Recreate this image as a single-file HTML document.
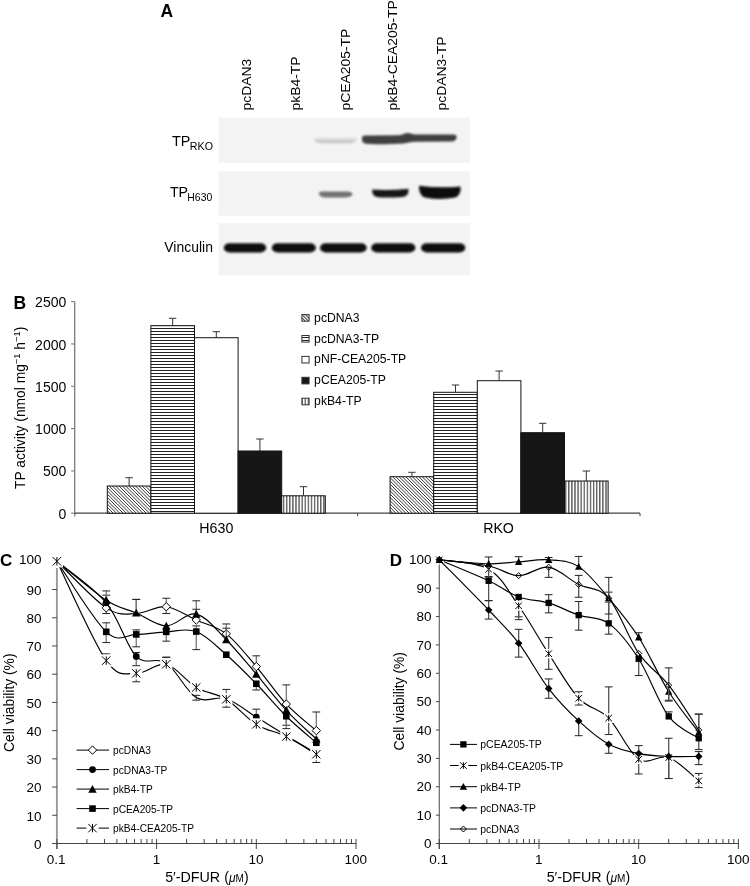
<!DOCTYPE html>
<html><head><meta charset="utf-8"><style>
html,body{margin:0;padding:0;background:#fff;font-family:"Liberation Sans",sans-serif;overflow:hidden;}
svg{display:block;filter:grayscale(1);}
</style></head><body>
<svg width="750" height="886" viewBox="0 0 750 886">
<defs>
<linearGradient id="gfaint" x1="0" y1="0" x2="0" y2="1"><stop offset="0" stop-color="#e4e4e4"/><stop offset="1" stop-color="#bcbcbc"/></linearGradient>
<filter id="bl" x="-10%" y="-40%" width="120%" height="180%"><feGaussianBlur stdDeviation="0.85"/></filter>
<pattern id="pd" width="2.35" height="2.35" patternUnits="userSpaceOnUse" patternTransform="rotate(-45)"><rect width="2.35" height="2.35" fill="#fff"/><line x1="0.6" y1="0" x2="0.6" y2="2.35" stroke="#000" stroke-width="0.75"/></pattern>
<pattern id="ph" width="4" height="3" patternUnits="userSpaceOnUse"><rect width="4" height="3" fill="#fff"/><line x1="0" y1="1.5" x2="4" y2="1.5" stroke="#222" stroke-width="1"/></pattern>
<pattern id="pv" width="3.1" height="4" patternUnits="userSpaceOnUse"><rect width="3.1" height="4" fill="#fff"/><line x1="1.5" y1="0" x2="1.5" y2="4" stroke="#222" stroke-width="1"/></pattern>
</defs>
<rect width="750" height="886" fill="#fff"/>
<text transform="translate(160.56,16.80)" font-family="'Liberation Sans', sans-serif" font-size="17.5" font-weight="bold" fill="#000">A</text>
<text transform="translate(250.80,110.50) rotate(-90) scale(1.0000,0.8800)" font-family="'Liberation Sans', sans-serif" font-size="13.9" fill="#000">pcDAN3</text>
<text transform="translate(299.50,110.50) rotate(-90) scale(1.0000,0.8800)" font-family="'Liberation Sans', sans-serif" font-size="13.9" fill="#000">pkB4-TP</text>
<text transform="translate(350.20,110.50) rotate(-90) scale(1.0000,0.8800)" font-family="'Liberation Sans', sans-serif" font-size="13.9" fill="#000">pCEA205-TP</text>
<text transform="translate(397.30,110.50) rotate(-90) scale(1.0000,0.8800)" font-family="'Liberation Sans', sans-serif" font-size="13.9" fill="#000">pkB4-CEA205-TP</text>
<text transform="translate(445.80,110.50) rotate(-90) scale(1.0000,0.8800)" font-family="'Liberation Sans', sans-serif" font-size="13.9" fill="#000">pcDAN3-TP</text>
<rect x="218.5" y="117.5" width="251.3" height="45.30000000000001" fill="#f3f3f3"/>
<rect x="218.5" y="171.2" width="251.3" height="44.60000000000002" fill="#f3f3f3"/>
<rect x="218.5" y="223.2" width="251.3" height="52.19999999999999" fill="#f3f3f3"/>
<text transform="translate(172.01,145.90)" font-family="'Liberation Sans', sans-serif" font-size="14.4" fill="#000">TP</text>
<text transform="translate(189.84,149.50)" font-family="'Liberation Sans', sans-serif" font-size="10.7" fill="#000">RKO</text>
<text transform="translate(169.92,196.80)" font-family="'Liberation Sans', sans-serif" font-size="14.2" fill="#000">TP</text>
<text transform="translate(187.37,200.50)" font-family="'Liberation Sans', sans-serif" font-size="10.4" fill="#000">H630</text>
<text transform="translate(164.33,252.20)" font-family="'Liberation Sans', sans-serif" font-size="13.95" fill="#000">Vinculin</text>
<path d="M314,138.6 C318,137.9 325,137.7 335,137.8 L348,137.8 C353,137.8 356,137.9 357.2,138.2 C357.2,141 354,143.2 348,143.3 L323,143.3 C317,143.2 314,141.5 314,138.6 Z" fill="url(#gfaint)" filter="url(#bl)"/>
<path d="M362,137.5 C362,135.8 364,135.6 368,135.6 L398,135.3 C402,135.1 404,133 407.5,132.9 C411,132.9 412,134.4 416,134.5 L452,134.4 C456,134.4 457,135.6 456.6,137.6 C456.2,140.5 454.5,141.4 451,141.5 L416,141.7 C411,141.8 409,142.6 405,143.2 C398,144 378,144.4 368,144 C363.5,143.8 362,141.5 362,139.5 Z" fill="#3f3f3f" filter="url(#bl)"/>
<path d="M318.9,193 C319,191.5 322,191.3 326,191.4 L346,191.6 C351,191.7 352.4,192.5 352.4,194 C352.4,196 350,197.2 345,197.4 L327,197.6 C321,197.6 318.8,195.5 318.9,193 Z" fill="#727272" filter="url(#bl)"/>
<path d="M372.3,189.6 Q390,190.6 408.3,188.7 C409,192.5 408,196 403,196.9 C392,197.8 381,197.8 377,197 C372.5,196 372,192.5 372.3,189.6 Z" fill="#161616" filter="url(#bl)"/>
<path d="M419,185.7 Q440,188.6 460.3,186.4 C461.2,190.5 460,195.5 455,197.6 C446,199.4 432,199.4 425,197.6 C420,195.8 419,190.5 419,185.7 Z" fill="#080808" filter="url(#bl)"/>
<rect x="223.8" y="243.3" width="42.39999999999998" height="9.099999999999994" rx="5.9" ry="4.5" fill="#0a0a0a" opacity="1" filter="url(#bl)"/>
<rect x="271.8" y="243.3" width="44.0" height="9.099999999999994" rx="5.9" ry="4.5" fill="#0a0a0a" opacity="1" filter="url(#bl)"/>
<rect x="320" y="243.3" width="46.69999999999999" height="9.099999999999994" rx="5.9" ry="4.5" fill="#0a0a0a" opacity="1" filter="url(#bl)"/>
<rect x="371.2" y="243.3" width="44.19999999999999" height="9.099999999999994" rx="5.9" ry="4.5" fill="#0a0a0a" opacity="1" filter="url(#bl)"/>
<rect x="421" y="243.3" width="44.30000000000001" height="9.099999999999994" rx="5.9" ry="4.5" fill="#0a0a0a" opacity="1" filter="url(#bl)"/>
<text transform="translate(13.46,308.90)" font-family="'Liberation Sans', sans-serif" font-size="17.5" font-weight="bold" fill="#000">B</text>
<line x1="74.7" y1="301.65" x2="74.7" y2="516.6" stroke="#7a7a7a" stroke-width="1.3"/>
<line x1="71.10000000000001" y1="513.20" x2="74.7" y2="513.20" stroke="#7a7a7a" stroke-width="1.1"/>
<text transform="translate(58.49,518.80)" font-family="'Liberation Sans', sans-serif" font-size="14" fill="#000">0</text>
<line x1="71.10000000000001" y1="470.89" x2="74.7" y2="470.89" stroke="#7a7a7a" stroke-width="1.1"/>
<text transform="translate(42.95,476.49)" font-family="'Liberation Sans', sans-serif" font-size="14" fill="#000">500</text>
<line x1="71.10000000000001" y1="428.58" x2="74.7" y2="428.58" stroke="#7a7a7a" stroke-width="1.1"/>
<text transform="translate(35.11,434.18)" font-family="'Liberation Sans', sans-serif" font-size="14" fill="#000">1000</text>
<line x1="71.10000000000001" y1="386.27" x2="74.7" y2="386.27" stroke="#7a7a7a" stroke-width="1.1"/>
<text transform="translate(35.11,391.87)" font-family="'Liberation Sans', sans-serif" font-size="14" fill="#000">1500</text>
<line x1="71.10000000000001" y1="343.96" x2="74.7" y2="343.96" stroke="#7a7a7a" stroke-width="1.1"/>
<text transform="translate(35.11,349.56)" font-family="'Liberation Sans', sans-serif" font-size="14" fill="#000">2000</text>
<line x1="71.10000000000001" y1="301.65" x2="74.7" y2="301.65" stroke="#7a7a7a" stroke-width="1.1"/>
<text transform="translate(35.11,307.25)" font-family="'Liberation Sans', sans-serif" font-size="14" fill="#000">2500</text>
<line x1="74.7" y1="513.2" x2="640" y2="513.2" stroke="#404040" stroke-width="1.2"/>
<line x1="357.6" y1="513.2" x2="357.6" y2="516.2" stroke="#404040" stroke-width="1"/>
<line x1="640" y1="513.2" x2="640" y2="516.2" stroke="#404040" stroke-width="1"/>
<text transform="translate(24.8,488.9) rotate(-90) scale(0.987,1)" font-family="'Liberation Sans', sans-serif" font-size="14">TP activity (nmol mg<tspan font-size="9.5" dy="-5.2">−1</tspan><tspan dy="5.2"> h</tspan><tspan font-size="9.5" dy="-5.2">−1</tspan><tspan dy="5.2">)</tspan></text>
<text transform="translate(199.36,533.30)" font-family="'Liberation Sans', sans-serif" font-size="14.2" fill="#000">H630</text>
<text transform="translate(483.16,533.30)" font-family="'Liberation Sans', sans-serif" font-size="14.2" fill="#000">RKO</text>
<line x1="129.1" y1="477.7" x2="129.1" y2="486" stroke="#333" stroke-width="1"/>
<line x1="125.4" y1="477.7" x2="132.8" y2="477.7" stroke="#333" stroke-width="1"/>
<clipPath id="cl107"><rect x="107.3" y="486" width="43.6" height="27.2"/></clipPath>
<rect x="107.3" y="486" width="43.6" height="27.2" fill="#fff"/>
<path d="M76.10,486.00 L103.30,513.20 M79.40,486.00 L106.60,513.20 M82.70,486.00 L109.90,513.20 M86.00,486.00 L113.20,513.20 M89.30,486.00 L116.50,513.20 M92.60,486.00 L119.80,513.20 M95.90,486.00 L123.10,513.20 M99.20,486.00 L126.40,513.20 M102.50,486.00 L129.70,513.20 M105.80,486.00 L133.00,513.20 M109.10,486.00 L136.30,513.20 M112.40,486.00 L139.60,513.20 M115.70,486.00 L142.90,513.20 M119.00,486.00 L146.20,513.20 M122.30,486.00 L149.50,513.20 M125.60,486.00 L152.80,513.20 M128.90,486.00 L156.10,513.20 M132.20,486.00 L159.40,513.20 M135.50,486.00 L162.70,513.20 M138.80,486.00 L166.00,513.20 M142.10,486.00 L169.30,513.20 M145.40,486.00 L172.60,513.20 M148.70,486.00 L175.90,513.20 M152.00,486.00 L179.20,513.20 " stroke="#000" stroke-width="0.8" clip-path="url(#cl107)"/>
<rect x="107.3" y="486" width="43.6" height="27.2" fill="none" stroke="#111" stroke-width="1"/>
<line x1="172.7" y1="318.3" x2="172.7" y2="325.7" stroke="#333" stroke-width="1"/>
<line x1="169.0" y1="318.3" x2="176.4" y2="318.3" stroke="#333" stroke-width="1"/>
<rect x="150.9" y="325.7" width="43.6" height="187.5" fill="url(#ph)" stroke="#111" stroke-width="1"/>
<line x1="216.3" y1="331.7" x2="216.3" y2="337.7" stroke="#333" stroke-width="1"/>
<line x1="212.6" y1="331.7" x2="220.0" y2="331.7" stroke="#333" stroke-width="1"/>
<rect x="194.5" y="337.7" width="43.6" height="175.5" fill="#ffffff" stroke="#111" stroke-width="1"/>
<line x1="259.9" y1="439" x2="259.9" y2="451" stroke="#333" stroke-width="1"/>
<line x1="256.2" y1="439" x2="263.6" y2="439" stroke="#333" stroke-width="1"/>
<rect x="238.1" y="451" width="43.6" height="62.2" fill="#161616" stroke="#111" stroke-width="1"/>
<line x1="303.5" y1="486.7" x2="303.5" y2="495.8" stroke="#333" stroke-width="1"/>
<line x1="299.8" y1="486.7" x2="307.2" y2="486.7" stroke="#333" stroke-width="1"/>
<rect x="281.7" y="495.8" width="43.6" height="17.4" fill="url(#pv)" stroke="#111" stroke-width="1"/>
<line x1="411.9" y1="472.3" x2="411.9" y2="476.7" stroke="#333" stroke-width="1"/>
<line x1="408.2" y1="472.3" x2="415.6" y2="472.3" stroke="#333" stroke-width="1"/>
<clipPath id="cl390"><rect x="390.1" y="476.7" width="43.6" height="36.5"/></clipPath>
<rect x="390.1" y="476.7" width="43.6" height="36.5" fill="#fff"/>
<path d="M349.60,476.70 L386.10,513.20 M352.90,476.70 L389.40,513.20 M356.20,476.70 L392.70,513.20 M359.50,476.70 L396.00,513.20 M362.80,476.70 L399.30,513.20 M366.10,476.70 L402.60,513.20 M369.40,476.70 L405.90,513.20 M372.70,476.70 L409.20,513.20 M376.00,476.70 L412.50,513.20 M379.30,476.70 L415.80,513.20 M382.60,476.70 L419.10,513.20 M385.90,476.70 L422.40,513.20 M389.20,476.70 L425.70,513.20 M392.50,476.70 L429.00,513.20 M395.80,476.70 L432.30,513.20 M399.10,476.70 L435.60,513.20 M402.40,476.70 L438.90,513.20 M405.70,476.70 L442.20,513.20 M409.00,476.70 L445.50,513.20 M412.30,476.70 L448.80,513.20 M415.60,476.70 L452.10,513.20 M418.90,476.70 L455.40,513.20 M422.20,476.70 L458.70,513.20 M425.50,476.70 L462.00,513.20 M428.80,476.70 L465.30,513.20 M432.10,476.70 L468.60,513.20 M435.40,476.70 L471.90,513.20 " stroke="#000" stroke-width="0.8" clip-path="url(#cl390)"/>
<rect x="390.1" y="476.7" width="43.6" height="36.5" fill="none" stroke="#111" stroke-width="1"/>
<line x1="455.5" y1="385" x2="455.5" y2="392.3" stroke="#333" stroke-width="1"/>
<line x1="451.8" y1="385" x2="459.2" y2="385" stroke="#333" stroke-width="1"/>
<rect x="433.7" y="392.3" width="43.6" height="120.9" fill="url(#ph)" stroke="#111" stroke-width="1"/>
<line x1="499.1" y1="371" x2="499.1" y2="380.7" stroke="#333" stroke-width="1"/>
<line x1="495.4" y1="371" x2="502.8" y2="371" stroke="#333" stroke-width="1"/>
<rect x="477.3" y="380.7" width="43.6" height="132.5" fill="#ffffff" stroke="#111" stroke-width="1"/>
<line x1="542.7" y1="423.3" x2="542.7" y2="432.7" stroke="#333" stroke-width="1"/>
<line x1="539.0" y1="423.3" x2="546.4" y2="423.3" stroke="#333" stroke-width="1"/>
<rect x="520.9" y="432.7" width="43.6" height="80.5" fill="#161616" stroke="#111" stroke-width="1"/>
<line x1="586.3" y1="471" x2="586.3" y2="481" stroke="#333" stroke-width="1"/>
<line x1="582.6" y1="471" x2="590.0" y2="471" stroke="#333" stroke-width="1"/>
<rect x="564.5" y="481" width="43.6" height="32.2" fill="url(#pv)" stroke="#111" stroke-width="1"/>
<rect x="301.9" y="314.6" width="7.2" height="6.6" fill="url(#pd)" stroke="#333" stroke-width="1"/>
<text transform="translate(314.11,321.60)" font-family="'Liberation Sans', sans-serif" font-size="12.2" fill="#000">pcDNA3</text>
<rect x="301.9" y="335.5" width="7.2" height="6.6" fill="url(#ph)" stroke="#333" stroke-width="1"/>
<text transform="translate(314.11,342.50)" font-family="'Liberation Sans', sans-serif" font-size="12.2" fill="#000">pcDNA3-TP</text>
<rect x="301.9" y="356.4" width="7.2" height="6.6" fill="#ffffff" stroke="#333" stroke-width="1"/>
<text transform="translate(314.11,363.40)" font-family="'Liberation Sans', sans-serif" font-size="12.2" fill="#000">pNF-CEA205-TP</text>
<rect x="301.9" y="377.3" width="7.2" height="6.6" fill="#161616" stroke="#333" stroke-width="1"/>
<text transform="translate(314.11,384.30)" font-family="'Liberation Sans', sans-serif" font-size="12.2" fill="#000">pCEA205-TP</text>
<rect x="301.9" y="398.2" width="7.2" height="6.6" fill="url(#pv)" stroke="#333" stroke-width="1"/>
<text transform="translate(314.11,405.20)" font-family="'Liberation Sans', sans-serif" font-size="12.2" fill="#000">pkB4-TP</text>
<text transform="translate(0.12,566.20)" font-family="'Liberation Sans', sans-serif" font-size="17" font-weight="bold" fill="#000">C</text>
<line x1="56.9" y1="568" x2="56.9" y2="849.0" stroke="#999" stroke-width="1.9"/>
<line x1="52.199999999999996" y1="843.50" x2="56.9" y2="843.50" stroke="#444" stroke-width="1"/>
<text transform="translate(33.95,848.80)" font-family="'Liberation Sans', sans-serif" font-size="13.5" fill="#000">0</text>
<line x1="52.199999999999996" y1="815.28" x2="56.9" y2="815.28" stroke="#444" stroke-width="1"/>
<text transform="translate(26.45,820.58)" font-family="'Liberation Sans', sans-serif" font-size="13.5" fill="#000">10</text>
<line x1="52.199999999999996" y1="787.06" x2="56.9" y2="787.06" stroke="#444" stroke-width="1"/>
<text transform="translate(26.45,792.36)" font-family="'Liberation Sans', sans-serif" font-size="13.5" fill="#000">20</text>
<line x1="52.199999999999996" y1="758.84" x2="56.9" y2="758.84" stroke="#444" stroke-width="1"/>
<text transform="translate(26.45,764.14)" font-family="'Liberation Sans', sans-serif" font-size="13.5" fill="#000">30</text>
<line x1="52.199999999999996" y1="730.62" x2="56.9" y2="730.62" stroke="#444" stroke-width="1"/>
<text transform="translate(26.45,735.92)" font-family="'Liberation Sans', sans-serif" font-size="13.5" fill="#000">40</text>
<line x1="52.199999999999996" y1="702.40" x2="56.9" y2="702.40" stroke="#444" stroke-width="1"/>
<text transform="translate(26.45,707.70)" font-family="'Liberation Sans', sans-serif" font-size="13.5" fill="#000">50</text>
<line x1="52.199999999999996" y1="674.18" x2="56.9" y2="674.18" stroke="#444" stroke-width="1"/>
<text transform="translate(26.45,679.48)" font-family="'Liberation Sans', sans-serif" font-size="13.5" fill="#000">60</text>
<line x1="52.199999999999996" y1="645.96" x2="56.9" y2="645.96" stroke="#444" stroke-width="1"/>
<text transform="translate(26.45,651.26)" font-family="'Liberation Sans', sans-serif" font-size="13.5" fill="#000">70</text>
<line x1="52.199999999999996" y1="617.74" x2="56.9" y2="617.74" stroke="#444" stroke-width="1"/>
<text transform="translate(26.45,623.04)" font-family="'Liberation Sans', sans-serif" font-size="13.5" fill="#000">80</text>
<line x1="52.199999999999996" y1="589.52" x2="56.9" y2="589.52" stroke="#444" stroke-width="1"/>
<text transform="translate(26.45,594.82)" font-family="'Liberation Sans', sans-serif" font-size="13.5" fill="#000">90</text>
<text transform="translate(18.96,564.10)" font-family="'Liberation Sans', sans-serif" font-size="13.5" fill="#000">100</text>
<line x1="56.9" y1="843.5" x2="356.0" y2="843.5" stroke="#444" stroke-width="1.1"/>
<line x1="86.91" y1="839.0" x2="86.91" y2="843.5" stroke="#444" stroke-width="1"/>
<line x1="104.47" y1="839.0" x2="104.47" y2="843.5" stroke="#444" stroke-width="1"/>
<line x1="116.93" y1="839.0" x2="116.93" y2="843.5" stroke="#444" stroke-width="1"/>
<line x1="126.59" y1="839.0" x2="126.59" y2="843.5" stroke="#444" stroke-width="1"/>
<line x1="134.48" y1="839.0" x2="134.48" y2="843.5" stroke="#444" stroke-width="1"/>
<line x1="141.16" y1="839.0" x2="141.16" y2="843.5" stroke="#444" stroke-width="1"/>
<line x1="146.94" y1="839.0" x2="146.94" y2="843.5" stroke="#444" stroke-width="1"/>
<line x1="152.04" y1="839.0" x2="152.04" y2="843.5" stroke="#444" stroke-width="1"/>
<line x1="186.61" y1="839.0" x2="186.61" y2="843.5" stroke="#444" stroke-width="1"/>
<line x1="204.17" y1="839.0" x2="204.17" y2="843.5" stroke="#444" stroke-width="1"/>
<line x1="216.63" y1="839.0" x2="216.63" y2="843.5" stroke="#444" stroke-width="1"/>
<line x1="226.29" y1="839.0" x2="226.29" y2="843.5" stroke="#444" stroke-width="1"/>
<line x1="234.18" y1="839.0" x2="234.18" y2="843.5" stroke="#444" stroke-width="1"/>
<line x1="240.86" y1="839.0" x2="240.86" y2="843.5" stroke="#444" stroke-width="1"/>
<line x1="246.64" y1="839.0" x2="246.64" y2="843.5" stroke="#444" stroke-width="1"/>
<line x1="251.74" y1="839.0" x2="251.74" y2="843.5" stroke="#444" stroke-width="1"/>
<line x1="286.31" y1="839.0" x2="286.31" y2="843.5" stroke="#444" stroke-width="1"/>
<line x1="303.87" y1="839.0" x2="303.87" y2="843.5" stroke="#444" stroke-width="1"/>
<line x1="316.33" y1="839.0" x2="316.33" y2="843.5" stroke="#444" stroke-width="1"/>
<line x1="325.99" y1="839.0" x2="325.99" y2="843.5" stroke="#444" stroke-width="1"/>
<line x1="333.88" y1="839.0" x2="333.88" y2="843.5" stroke="#444" stroke-width="1"/>
<line x1="340.56" y1="839.0" x2="340.56" y2="843.5" stroke="#444" stroke-width="1"/>
<line x1="346.34" y1="839.0" x2="346.34" y2="843.5" stroke="#444" stroke-width="1"/>
<line x1="351.44" y1="839.0" x2="351.44" y2="843.5" stroke="#444" stroke-width="1"/>
<line x1="56.90" y1="839.0" x2="56.90" y2="849.0" stroke="#444" stroke-width="1"/>
<text transform="translate(46.79,864.30)" font-family="'Liberation Sans', sans-serif" font-size="13.5" fill="#000">0.1</text>
<line x1="156.60" y1="839.0" x2="156.60" y2="849.0" stroke="#444" stroke-width="1"/>
<text transform="translate(152.69,864.30)" font-family="'Liberation Sans', sans-serif" font-size="13.5" fill="#000">1</text>
<line x1="256.30" y1="839.0" x2="256.30" y2="849.0" stroke="#444" stroke-width="1"/>
<text transform="translate(248.57,864.30)" font-family="'Liberation Sans', sans-serif" font-size="13.5" fill="#000">10</text>
<line x1="356.00" y1="839.0" x2="356.00" y2="849.0" stroke="#444" stroke-width="1"/>
<text transform="translate(344.53,864.30)" font-family="'Liberation Sans', sans-serif" font-size="13.5" fill="#000">100</text>
<path d="M106.24,607.86 L106.24,613.51" stroke="#777" stroke-width="1.3" fill="none"/>
<path d="M102.34,613.51 L110.14,613.51" stroke="#222" stroke-width="1" fill="none"/>
<path d="M136.25,599.40 L136.25,613.51" stroke="#777" stroke-width="1.3" fill="none"/>
<path d="M132.35,599.40 L140.15,599.40 " stroke="#222" stroke-width="1" fill="none"/>
<path d="M166.26,598.27 L166.26,613.51" stroke="#777" stroke-width="1.3" fill="none"/>
<path d="M162.36,598.27 L170.16,598.27 M162.36,613.51 L170.16,613.51" stroke="#222" stroke-width="1" fill="none"/>
<path d="M196.27,600.81 L196.27,620.00" stroke="#777" stroke-width="1.3" fill="none"/>
<path d="M192.37,600.81 L200.17,600.81 " stroke="#222" stroke-width="1" fill="none"/>
<path d="M226.29,623.95 L226.29,633.83" stroke="#777" stroke-width="1.3" fill="none"/>
<path d="M222.39,623.95 L230.19,623.95 " stroke="#222" stroke-width="1" fill="none"/>
<path d="M256.30,655.84 L256.30,666.56" stroke="#777" stroke-width="1.3" fill="none"/>
<path d="M252.40,655.84 L260.20,655.84 " stroke="#222" stroke-width="1" fill="none"/>
<path d="M286.31,684.90 L286.31,704.09" stroke="#777" stroke-width="1.3" fill="none"/>
<path d="M282.41,684.90 L290.21,684.90 " stroke="#222" stroke-width="1" fill="none"/>
<path d="M316.33,711.99 L316.33,730.62" stroke="#777" stroke-width="1.3" fill="none"/>
<path d="M312.43,711.99 L320.23,711.99 " stroke="#222" stroke-width="1" fill="none"/>
<path d="M56.90,561.30 C65.12,569.06 93.01,599.16 106.24,607.86 C119.46,616.56 126.25,613.70 136.25,613.51 C146.25,613.32 156.26,605.65 166.26,606.73 C176.27,607.82 186.27,615.48 196.27,620.00 C206.28,624.51 216.28,626.06 226.29,633.83 C236.29,641.59 246.30,654.85 256.30,666.56 C266.30,678.27 276.31,693.42 286.31,704.09 C296.32,714.77 311.32,726.20 316.33,730.62" stroke="#000" stroke-width="1.15" fill="none"/>
<path d="M106.24,603.66 L110.44,607.86 L106.24,612.06 L102.04,607.86 Z" fill="#fff" stroke="#000" stroke-width="1"/>
<path d="M166.26,602.53 L170.46,606.73 L166.26,610.93 L162.06,606.73 Z" fill="#fff" stroke="#000" stroke-width="1"/>
<path d="M196.27,615.80 L200.47,620.00 L196.27,624.20 L192.07,620.00 Z" fill="#fff" stroke="#000" stroke-width="1"/>
<path d="M226.29,629.63 L230.49,633.83 L226.29,638.03 L222.09,633.83 Z" fill="#fff" stroke="#000" stroke-width="1"/>
<path d="M256.30,662.36 L260.50,666.56 L256.30,670.76 L252.10,666.56 Z" fill="#fff" stroke="#000" stroke-width="1"/>
<path d="M286.31,699.89 L290.51,704.09 L286.31,708.29 L282.11,704.09 Z" fill="#fff" stroke="#000" stroke-width="1"/>
<path d="M316.33,726.42 L320.53,730.62 L316.33,734.82 L312.13,730.62 Z" fill="#fff" stroke="#000" stroke-width="1"/>
<path d="M106.24,595.16 L106.24,602.78" stroke="#777" stroke-width="1.3" fill="none"/>
<path d="M102.34,595.16 L110.14,595.16 " stroke="#222" stroke-width="1" fill="none"/>
<path d="M136.25,652.45 L136.25,665.71" stroke="#777" stroke-width="1.3" fill="none"/>
<path d="M132.35,652.45 L140.15,652.45 M132.35,665.71 L140.15,665.71" stroke="#222" stroke-width="1" fill="none"/>
<path d="M166.26,657.25 L166.26,662.89" stroke="#777" stroke-width="1.3" fill="none"/>
<path d="M162.36,657.25 L170.16,657.25 " stroke="#222" stroke-width="1" fill="none"/>
<path d="M196.27,695.34 L196.27,700.14" stroke="#777" stroke-width="1.3" fill="none"/>
<path d="M192.37,695.34 L200.17,695.34 M192.37,700.14 L200.17,700.14" stroke="#222" stroke-width="1" fill="none"/>
<path d="M256.30,709.17 L256.30,717.07" stroke="#777" stroke-width="1.3" fill="none"/>
<path d="M252.40,709.17 L260.20,709.17 " stroke="#222" stroke-width="1" fill="none"/>
<path d="M56.90,561.30 C65.12,568.21 93.01,586.93 106.24,602.78 C119.46,618.63 126.25,646.38 136.25,656.40 C146.25,666.42 156.26,656.03 166.26,662.89 C176.27,669.76 186.27,691.63 196.27,697.60 C206.28,703.58 216.28,695.49 226.29,698.73 C236.29,701.98 246.30,710.91 256.30,717.07 C266.30,723.24 276.31,729.68 286.31,735.70 C296.32,741.72 311.32,750.28 316.33,753.20" stroke="#000" stroke-width="1.15" fill="none"/>
<circle cx="106.24" cy="602.78" r="3.40" fill="#000"/>
<circle cx="136.25" cy="656.40" r="3.40" fill="#000"/>
<circle cx="166.26" cy="662.89" r="3.40" fill="#000"/>
<circle cx="226.29" cy="698.73" r="3.40" fill="#000"/>
<circle cx="256.30" cy="717.07" r="3.40" fill="#000"/>
<path d="M106.24,590.93 L106.24,600.24" stroke="#777" stroke-width="1.3" fill="none"/>
<path d="M102.34,590.93 L110.14,590.93 " stroke="#222" stroke-width="1" fill="none"/>
<path d="M136.25,599.40 L136.25,612.94" stroke="#777" stroke-width="1.3" fill="none"/>
<path d="M132.35,599.40 L140.15,599.40 " stroke="#222" stroke-width="1" fill="none"/>
<path d="M166.26,625.92 L166.26,641.16" stroke="#777" stroke-width="1.3" fill="none"/>
<path d="M162.36,641.16 L170.16,641.16" stroke="#222" stroke-width="1" fill="none"/>
<path d="M196.27,609.27 L196.27,614.07" stroke="#777" stroke-width="1.3" fill="none"/>
<path d="M192.37,609.27 L200.17,609.27 " stroke="#222" stroke-width="1" fill="none"/>
<path d="M226.29,628.18 L226.29,639.75" stroke="#777" stroke-width="1.3" fill="none"/>
<path d="M222.39,628.18 L230.19,628.18 " stroke="#222" stroke-width="1" fill="none"/>
<path d="M286.31,710.30 L286.31,725.26" stroke="#777" stroke-width="1.3" fill="none"/>
<path d="M282.41,725.26 L290.21,725.26" stroke="#222" stroke-width="1" fill="none"/>
<path d="M56.90,561.30 C65.12,567.79 93.01,591.64 106.24,600.24 C119.46,608.85 126.25,608.66 136.25,612.94 C146.25,617.22 156.26,625.74 166.26,625.92 C176.27,626.11 186.27,611.77 196.27,614.07 C206.28,616.38 216.28,629.73 226.29,639.75 C236.29,649.77 246.30,662.42 256.30,674.18 C266.30,685.94 276.31,699.48 286.31,710.30 C296.32,721.12 311.32,734.29 316.33,739.09" stroke="#000" stroke-width="1.15" fill="none"/>
<path d="M106.24,596.04 L110.44,603.81 L102.04,603.81 Z" fill="#000"/>
<path d="M136.25,608.74 L140.45,616.51 L132.05,616.51 Z" fill="#000"/>
<path d="M166.26,621.72 L170.46,629.49 L162.06,629.49 Z" fill="#000"/>
<path d="M196.27,609.87 L200.47,617.64 L192.07,617.64 Z" fill="#000"/>
<path d="M226.29,635.55 L230.49,643.32 L222.09,643.32 Z" fill="#000"/>
<path d="M256.30,669.98 L260.50,677.75 L252.10,677.75 Z" fill="#000"/>
<path d="M286.31,706.10 L290.51,713.87 L282.11,713.87 Z" fill="#000"/>
<path d="M316.33,734.89 L320.53,742.66 L312.13,742.66 Z" fill="#000"/>
<path d="M106.24,622.82 L106.24,642.57" stroke="#777" stroke-width="1.3" fill="none"/>
<path d="M102.34,622.82 L110.14,622.82 M102.34,642.57 L110.14,642.57" stroke="#222" stroke-width="1" fill="none"/>
<path d="M136.25,629.87 L136.25,646.81" stroke="#777" stroke-width="1.3" fill="none"/>
<path d="M132.35,629.87 L140.15,629.87 M132.35,646.81 L140.15,646.81" stroke="#222" stroke-width="1" fill="none"/>
<path d="M196.27,625.92 L196.27,649.63" stroke="#777" stroke-width="1.3" fill="none"/>
<path d="M192.37,625.92 L200.17,625.92 M192.37,649.63 L200.17,649.63" stroke="#222" stroke-width="1" fill="none"/>
<path d="M256.30,683.77 L256.30,689.98" stroke="#777" stroke-width="1.3" fill="none"/>
<path d="M252.40,689.98 L260.20,689.98" stroke="#222" stroke-width="1" fill="none"/>
<path d="M286.31,716.23 L286.31,728.64" stroke="#777" stroke-width="1.3" fill="none"/>
<path d="M282.41,728.64 L290.21,728.64" stroke="#222" stroke-width="1" fill="none"/>
<path d="M56.90,561.30 C65.12,573.06 93.01,619.67 106.24,631.85 C119.46,644.03 126.25,634.39 136.25,634.39 C146.25,634.39 156.26,632.32 166.26,631.85 C176.27,631.38 186.27,627.76 196.27,631.57 C206.28,635.38 216.28,646.01 226.29,654.71 C236.29,663.41 246.30,673.52 256.30,683.77 C266.30,694.03 276.31,706.40 286.31,716.23 C296.32,726.06 311.32,738.33 316.33,742.75" stroke="#000" stroke-width="1.15" fill="none"/>
<rect x="102.94" y="628.55" width="6.60" height="6.60" fill="#000"/>
<rect x="132.95" y="631.09" width="6.60" height="6.60" fill="#000"/>
<rect x="162.96" y="628.55" width="6.60" height="6.60" fill="#000"/>
<rect x="192.97" y="628.27" width="6.60" height="6.60" fill="#000"/>
<rect x="222.99" y="651.41" width="6.60" height="6.60" fill="#000"/>
<rect x="253.00" y="680.47" width="6.60" height="6.60" fill="#000"/>
<rect x="283.01" y="712.93" width="6.60" height="6.60" fill="#000"/>
<rect x="313.03" y="739.45" width="6.60" height="6.60" fill="#000"/>
<path d="M106.24,653.86 L106.24,660.63" stroke="#777" stroke-width="1.3" fill="none"/>
<path d="M102.34,653.86 L110.14,653.86 " stroke="#222" stroke-width="1" fill="none"/>
<path d="M136.25,673.33 L136.25,681.80" stroke="#777" stroke-width="1.3" fill="none"/>
<path d="M132.35,681.80 L140.15,681.80" stroke="#222" stroke-width="1" fill="none"/>
<path d="M166.26,657.25 L166.26,664.30" stroke="#777" stroke-width="1.3" fill="none"/>
<path d="M162.36,657.25 L170.16,657.25 " stroke="#222" stroke-width="1" fill="none"/>
<path d="M226.29,689.42 L226.29,707.20" stroke="#777" stroke-width="1.3" fill="none"/>
<path d="M222.39,689.42 L230.19,689.42 M222.39,707.20 L230.19,707.20" stroke="#222" stroke-width="1" fill="none"/>
<path d="M316.33,754.32 L316.33,762.51" stroke="#777" stroke-width="1.3" fill="none"/>
<path d="M312.43,762.51 L320.23,762.51" stroke="#222" stroke-width="1" fill="none"/>
<path d="M56.90,561.30 C65.12,577.86 93.01,641.96 106.24,660.63 C119.46,679.31 126.25,672.72 136.25,673.33 C146.25,673.94 156.26,661.95 166.26,664.30 C176.27,666.65 186.27,681.61 196.27,687.44 C206.28,693.28 216.28,693.13 226.29,699.30 C236.29,705.46 246.30,718.20 256.30,724.41 C266.30,730.62 276.31,731.56 286.31,736.55 C296.32,741.53 311.32,751.36 316.33,754.32" stroke="#000" stroke-width="1.15" fill="none"/>
<rect x="50.81" y="555.21" width="12.18" height="12.18" fill="#fff"/><path d="M52.70,557.10 L61.10,565.50 M61.10,557.10 L52.70,565.50 M56.90,557.10 L56.90,565.50" stroke="#000" stroke-width="1" fill="none"/>
<rect x="100.15" y="654.54" width="12.18" height="12.18" fill="#fff"/><path d="M102.04,656.43 L110.44,664.83 M110.44,656.43 L102.04,664.83 M106.24,656.43 L106.24,664.83" stroke="#000" stroke-width="1" fill="none"/>
<rect x="130.16" y="667.24" width="12.18" height="12.18" fill="#fff"/><path d="M132.05,669.13 L140.45,677.53 M140.45,669.13 L132.05,677.53 M136.25,669.13 L136.25,677.53" stroke="#000" stroke-width="1" fill="none"/>
<rect x="160.17" y="658.21" width="12.18" height="12.18" fill="#fff"/><path d="M162.06,660.10 L170.46,668.50 M170.46,660.10 L162.06,668.50 M166.26,660.10 L166.26,668.50" stroke="#000" stroke-width="1" fill="none"/>
<rect x="190.18" y="681.35" width="12.18" height="12.18" fill="#fff"/><path d="M192.07,683.24 L200.47,691.64 M200.47,683.24 L192.07,691.64 M196.27,683.24 L196.27,691.64" stroke="#000" stroke-width="1" fill="none"/>
<rect x="220.20" y="693.21" width="12.18" height="12.18" fill="#fff"/><path d="M222.09,695.10 L230.49,703.50 M230.49,695.10 L222.09,703.50 M226.29,695.10 L226.29,703.50" stroke="#000" stroke-width="1" fill="none"/>
<rect x="250.21" y="718.32" width="12.18" height="12.18" fill="#fff"/><path d="M252.10,720.21 L260.50,728.61 M260.50,720.21 L252.10,728.61 M256.30,720.21 L256.30,728.61" stroke="#000" stroke-width="1" fill="none"/>
<rect x="280.22" y="730.46" width="12.18" height="12.18" fill="#fff"/><path d="M282.11,732.35 L290.51,740.75 M290.51,732.35 L282.11,740.75 M286.31,732.35 L286.31,740.75" stroke="#000" stroke-width="1" fill="none"/>
<rect x="310.24" y="748.23" width="12.18" height="12.18" fill="#fff"/><path d="M312.13,750.12 L320.53,758.52 M320.53,750.12 L312.13,758.52 M316.33,750.12 L316.33,758.52" stroke="#000" stroke-width="1" fill="none"/>
<line x1="76.6" y1="750.1" x2="109" y2="750.1" stroke="#000" stroke-width="1"/>
<path d="M92.50,745.90 L96.70,750.10 L92.50,754.30 L88.30,750.10 Z" fill="#fff" stroke="#000" stroke-width="1"/>
<text transform="translate(113.04,754.10)" font-family="'Liberation Sans', sans-serif" font-size="10.2" fill="#000">pcDNA3</text>
<line x1="76.6" y1="769.6" x2="109" y2="769.6" stroke="#000" stroke-width="1"/>
<circle cx="92.50" cy="769.60" r="3.40" fill="#000"/>
<text transform="translate(113.04,773.60)" font-family="'Liberation Sans', sans-serif" font-size="10.2" fill="#000">pcDNA3-TP</text>
<line x1="76.6" y1="789.1" x2="109" y2="789.1" stroke="#000" stroke-width="1"/>
<path d="M92.50,784.90 L96.70,792.67 L88.30,792.67 Z" fill="#000"/>
<text transform="translate(113.04,793.10)" font-family="'Liberation Sans', sans-serif" font-size="10.2" fill="#000">pkB4-TP</text>
<line x1="76.6" y1="808.6" x2="109" y2="808.6" stroke="#000" stroke-width="1"/>
<rect x="89.20" y="805.30" width="6.60" height="6.60" fill="#000"/>
<text transform="translate(113.04,812.60)" font-family="'Liberation Sans', sans-serif" font-size="10.2" fill="#000">pCEA205-TP</text>
<line x1="76.6" y1="828.1" x2="109" y2="828.1" stroke="#000" stroke-width="1"/>
<rect x="86.41" y="822.01" width="12.18" height="12.18" fill="#fff"/><path d="M88.30,823.90 L96.70,832.30 M96.70,823.90 L88.30,832.30 M92.50,823.90 L92.50,832.30" stroke="#000" stroke-width="1" fill="none"/>
<text transform="translate(113.04,832.10)" font-family="'Liberation Sans', sans-serif" font-size="10.2" fill="#000">pkB4-CEA205-TP</text>
<text transform="translate(389.79,566.30)" font-family="'Liberation Sans', sans-serif" font-size="17" font-weight="bold" fill="#000">D</text>
<line x1="439.3" y1="564" x2="439.3" y2="849.0" stroke="#666" stroke-width="1.2"/>
<line x1="436.0" y1="843.50" x2="439.3" y2="843.50" stroke="#444" stroke-width="1"/>
<text transform="translate(424.05,848.10)" font-family="'Liberation Sans', sans-serif" font-size="13.5" fill="#000">0</text>
<line x1="436.0" y1="815.13" x2="439.3" y2="815.13" stroke="#444" stroke-width="1"/>
<text transform="translate(416.56,819.73)" font-family="'Liberation Sans', sans-serif" font-size="13.5" fill="#000">10</text>
<line x1="436.0" y1="786.76" x2="439.3" y2="786.76" stroke="#444" stroke-width="1"/>
<text transform="translate(416.56,791.36)" font-family="'Liberation Sans', sans-serif" font-size="13.5" fill="#000">20</text>
<line x1="436.0" y1="758.39" x2="439.3" y2="758.39" stroke="#444" stroke-width="1"/>
<text transform="translate(416.56,762.99)" font-family="'Liberation Sans', sans-serif" font-size="13.5" fill="#000">30</text>
<line x1="436.0" y1="730.02" x2="439.3" y2="730.02" stroke="#444" stroke-width="1"/>
<text transform="translate(416.56,734.62)" font-family="'Liberation Sans', sans-serif" font-size="13.5" fill="#000">40</text>
<line x1="436.0" y1="701.65" x2="439.3" y2="701.65" stroke="#444" stroke-width="1"/>
<text transform="translate(416.56,706.25)" font-family="'Liberation Sans', sans-serif" font-size="13.5" fill="#000">50</text>
<line x1="436.0" y1="673.28" x2="439.3" y2="673.28" stroke="#444" stroke-width="1"/>
<text transform="translate(416.56,677.88)" font-family="'Liberation Sans', sans-serif" font-size="13.5" fill="#000">60</text>
<line x1="436.0" y1="644.91" x2="439.3" y2="644.91" stroke="#444" stroke-width="1"/>
<text transform="translate(416.56,649.51)" font-family="'Liberation Sans', sans-serif" font-size="13.5" fill="#000">70</text>
<line x1="436.0" y1="616.54" x2="439.3" y2="616.54" stroke="#444" stroke-width="1"/>
<text transform="translate(416.56,621.14)" font-family="'Liberation Sans', sans-serif" font-size="13.5" fill="#000">80</text>
<line x1="436.0" y1="588.17" x2="439.3" y2="588.17" stroke="#444" stroke-width="1"/>
<text transform="translate(416.56,592.77)" font-family="'Liberation Sans', sans-serif" font-size="13.5" fill="#000">90</text>
<text transform="translate(409.06,563.70)" font-family="'Liberation Sans', sans-serif" font-size="13.5" fill="#000">100</text>
<line x1="439.3" y1="843.5" x2="738.4000000000001" y2="843.5" stroke="#444" stroke-width="1.1"/>
<line x1="469.31" y1="839.0" x2="469.31" y2="843.5" stroke="#444" stroke-width="1"/>
<line x1="486.87" y1="839.0" x2="486.87" y2="843.5" stroke="#444" stroke-width="1"/>
<line x1="499.33" y1="839.0" x2="499.33" y2="843.5" stroke="#444" stroke-width="1"/>
<line x1="508.99" y1="839.0" x2="508.99" y2="843.5" stroke="#444" stroke-width="1"/>
<line x1="516.88" y1="839.0" x2="516.88" y2="843.5" stroke="#444" stroke-width="1"/>
<line x1="523.56" y1="839.0" x2="523.56" y2="843.5" stroke="#444" stroke-width="1"/>
<line x1="529.34" y1="839.0" x2="529.34" y2="843.5" stroke="#444" stroke-width="1"/>
<line x1="534.44" y1="839.0" x2="534.44" y2="843.5" stroke="#444" stroke-width="1"/>
<line x1="569.01" y1="839.0" x2="569.01" y2="843.5" stroke="#444" stroke-width="1"/>
<line x1="586.57" y1="839.0" x2="586.57" y2="843.5" stroke="#444" stroke-width="1"/>
<line x1="599.03" y1="839.0" x2="599.03" y2="843.5" stroke="#444" stroke-width="1"/>
<line x1="608.69" y1="839.0" x2="608.69" y2="843.5" stroke="#444" stroke-width="1"/>
<line x1="616.58" y1="839.0" x2="616.58" y2="843.5" stroke="#444" stroke-width="1"/>
<line x1="623.26" y1="839.0" x2="623.26" y2="843.5" stroke="#444" stroke-width="1"/>
<line x1="629.04" y1="839.0" x2="629.04" y2="843.5" stroke="#444" stroke-width="1"/>
<line x1="634.14" y1="839.0" x2="634.14" y2="843.5" stroke="#444" stroke-width="1"/>
<line x1="668.71" y1="839.0" x2="668.71" y2="843.5" stroke="#444" stroke-width="1"/>
<line x1="686.27" y1="839.0" x2="686.27" y2="843.5" stroke="#444" stroke-width="1"/>
<line x1="698.73" y1="839.0" x2="698.73" y2="843.5" stroke="#444" stroke-width="1"/>
<line x1="708.39" y1="839.0" x2="708.39" y2="843.5" stroke="#444" stroke-width="1"/>
<line x1="716.28" y1="839.0" x2="716.28" y2="843.5" stroke="#444" stroke-width="1"/>
<line x1="722.96" y1="839.0" x2="722.96" y2="843.5" stroke="#444" stroke-width="1"/>
<line x1="728.74" y1="839.0" x2="728.74" y2="843.5" stroke="#444" stroke-width="1"/>
<line x1="733.84" y1="839.0" x2="733.84" y2="843.5" stroke="#444" stroke-width="1"/>
<line x1="439.30" y1="839.0" x2="439.30" y2="849.0" stroke="#444" stroke-width="1"/>
<text transform="translate(429.19,864.30)" font-family="'Liberation Sans', sans-serif" font-size="13.5" fill="#000">0.1</text>
<line x1="539.00" y1="839.0" x2="539.00" y2="849.0" stroke="#444" stroke-width="1"/>
<text transform="translate(535.08,864.30)" font-family="'Liberation Sans', sans-serif" font-size="13.5" fill="#000">1</text>
<line x1="638.70" y1="839.0" x2="638.70" y2="849.0" stroke="#444" stroke-width="1"/>
<text transform="translate(630.97,864.30)" font-family="'Liberation Sans', sans-serif" font-size="13.5" fill="#000">10</text>
<line x1="738.40" y1="839.0" x2="738.40" y2="849.0" stroke="#444" stroke-width="1"/>
<text transform="translate(726.93,864.30)" font-family="'Liberation Sans', sans-serif" font-size="13.5" fill="#000">100</text>
<path d="M488.64,576.54 L488.64,600.65" stroke="#555" stroke-width="1.3" fill="none"/>
<path d="M484.74,576.54 L492.54,576.54 M484.74,600.65 L492.54,600.65" stroke="#222" stroke-width="1" fill="none"/>
<path d="M518.65,596.96 L518.65,616.82" stroke="#555" stroke-width="1.3" fill="none"/>
<path d="M514.75,616.82 L522.55,616.82" stroke="#222" stroke-width="1" fill="none"/>
<path d="M548.66,594.70 L548.66,612.85" stroke="#555" stroke-width="1.3" fill="none"/>
<path d="M544.76,594.70 L552.56,594.70 M544.76,612.85 L552.56,612.85" stroke="#222" stroke-width="1" fill="none"/>
<path d="M578.67,601.50 L578.67,630.16" stroke="#555" stroke-width="1.3" fill="none"/>
<path d="M574.77,601.50 L582.57,601.50 M574.77,630.16 L582.57,630.16" stroke="#222" stroke-width="1" fill="none"/>
<path d="M608.69,602.07 L608.69,634.13" stroke="#555" stroke-width="1.3" fill="none"/>
<path d="M604.79,602.07 L612.59,602.07 M604.79,634.13 L612.59,634.13" stroke="#222" stroke-width="1" fill="none"/>
<path d="M638.70,658.81 L638.70,675.55" stroke="#555" stroke-width="1.3" fill="none"/>
<path d="M634.80,675.55 L642.60,675.55" stroke="#222" stroke-width="1" fill="none"/>
<path d="M668.71,711.86 L668.71,716.40" stroke="#555" stroke-width="1.3" fill="none"/>
<path d="M664.81,711.86 L672.61,711.86 " stroke="#222" stroke-width="1" fill="none"/>
<path d="M698.73,738.25 L698.73,749.60" stroke="#555" stroke-width="1.3" fill="none"/>
<path d="M694.83,749.60 L702.63,749.60" stroke="#222" stroke-width="1" fill="none"/>
<path d="M439.30,559.80 C447.52,563.30 475.41,574.60 488.64,580.79 C501.86,586.99 508.65,593.28 518.65,596.96 C528.65,600.65 538.66,599.90 548.66,602.92 C558.67,605.95 568.67,611.72 578.67,615.12 C588.68,618.53 598.68,616.07 608.69,623.35 C618.69,630.63 628.70,643.30 638.70,658.81 C648.70,674.32 658.71,703.16 668.71,716.40 C678.72,729.64 693.72,734.61 698.73,738.25" stroke="#000" stroke-width="1.15" fill="none"/>
<rect x="436.15" y="556.65" width="6.30" height="6.30" fill="#000"/>
<rect x="485.49" y="577.64" width="6.30" height="6.30" fill="#000"/>
<rect x="515.50" y="593.81" width="6.30" height="6.30" fill="#000"/>
<rect x="545.51" y="599.77" width="6.30" height="6.30" fill="#000"/>
<rect x="575.52" y="611.97" width="6.30" height="6.30" fill="#000"/>
<rect x="605.54" y="620.20" width="6.30" height="6.30" fill="#000"/>
<rect x="635.55" y="655.66" width="6.30" height="6.30" fill="#000"/>
<rect x="665.56" y="713.25" width="6.30" height="6.30" fill="#000"/>
<rect x="695.58" y="735.10" width="6.30" height="6.30" fill="#000"/>
<path d="M518.65,605.76 L518.65,619.66" stroke="#555" stroke-width="1.3" fill="none"/>
<path d="M514.75,619.66 L522.55,619.66" stroke="#222" stroke-width="1" fill="none"/>
<path d="M548.66,637.53 L548.66,669.31" stroke="#555" stroke-width="1.3" fill="none"/>
<path d="M544.76,637.53 L552.56,637.53 M544.76,669.31 L552.56,669.31" stroke="#222" stroke-width="1" fill="none"/>
<path d="M578.67,691.72 L578.67,705.05" stroke="#555" stroke-width="1.3" fill="none"/>
<path d="M574.77,691.72 L582.57,691.72 M574.77,705.05 L582.57,705.05" stroke="#222" stroke-width="1" fill="none"/>
<path d="M608.69,686.90 L608.69,734.56" stroke="#555" stroke-width="1.3" fill="none"/>
<path d="M604.79,686.90 L612.59,686.90 M604.79,734.56 L612.59,734.56" stroke="#222" stroke-width="1" fill="none"/>
<path d="M638.70,759.24 L638.70,773.99" stroke="#555" stroke-width="1.3" fill="none"/>
<path d="M634.80,773.99 L642.60,773.99" stroke="#222" stroke-width="1" fill="none"/>
<path d="M668.71,757.54 L668.71,778.53" stroke="#555" stroke-width="1.3" fill="none"/>
<path d="M664.81,778.53 L672.61,778.53" stroke="#222" stroke-width="1" fill="none"/>
<path d="M698.73,773.43 L698.73,787.61" stroke="#555" stroke-width="1.3" fill="none"/>
<path d="M694.83,773.43 L702.63,773.43 M694.83,787.61 L702.63,787.61" stroke="#222" stroke-width="1" fill="none"/>
<path d="M439.30,559.80 C447.52,561.36 475.41,561.50 488.64,569.16 C501.86,576.82 508.65,591.67 518.65,605.76 C528.65,619.85 538.66,638.29 548.66,653.70 C558.67,669.12 568.67,687.51 578.67,698.25 C588.68,708.98 598.68,707.94 608.69,718.10 C618.69,728.27 628.70,752.67 638.70,759.24 C648.70,765.81 658.71,753.95 668.71,757.54 C678.72,761.13 693.72,776.93 698.73,780.80" stroke="#000" stroke-width="1.15" fill="none"/>
<rect x="434.51" y="555.01" width="9.57" height="9.57" fill="#fff"/><path d="M436.00,556.50 L442.60,563.10 M442.60,556.50 L436.00,563.10 M439.30,556.50 L439.30,563.10" stroke="#000" stroke-width="1" fill="none"/>
<rect x="483.85" y="564.38" width="9.57" height="9.57" fill="#fff"/><path d="M485.34,565.86 L491.94,572.46 M491.94,565.86 L485.34,572.46 M488.64,565.86 L488.64,572.46" stroke="#000" stroke-width="1" fill="none"/>
<rect x="513.86" y="600.97" width="9.57" height="9.57" fill="#fff"/><path d="M515.35,602.46 L521.95,609.06 M521.95,602.46 L515.35,609.06 M518.65,602.46 L518.65,609.06" stroke="#000" stroke-width="1" fill="none"/>
<rect x="543.88" y="648.92" width="9.57" height="9.57" fill="#fff"/><path d="M545.36,650.40 L551.96,657.00 M551.96,650.40 L545.36,657.00 M548.66,650.40 L548.66,657.00" stroke="#000" stroke-width="1" fill="none"/>
<rect x="573.89" y="693.46" width="9.57" height="9.57" fill="#fff"/><path d="M575.37,694.95 L581.97,701.55 M581.97,694.95 L575.37,701.55 M578.67,694.95 L578.67,701.55" stroke="#000" stroke-width="1" fill="none"/>
<rect x="603.90" y="713.32" width="9.57" height="9.57" fill="#fff"/><path d="M605.39,714.80 L611.99,721.40 M611.99,714.80 L605.39,721.40 M608.69,714.80 L608.69,721.40" stroke="#000" stroke-width="1" fill="none"/>
<rect x="633.92" y="754.46" width="9.57" height="9.57" fill="#fff"/><path d="M635.40,755.94 L642.00,762.54 M642.00,755.94 L635.40,762.54 M638.70,755.94 L638.70,762.54" stroke="#000" stroke-width="1" fill="none"/>
<rect x="663.93" y="752.75" width="9.57" height="9.57" fill="#fff"/><path d="M665.41,754.24 L672.01,760.84 M672.01,754.24 L665.41,760.84 M668.71,754.24 L668.71,760.84" stroke="#000" stroke-width="1" fill="none"/>
<rect x="693.94" y="776.02" width="9.57" height="9.57" fill="#fff"/><path d="M695.43,777.50 L702.03,784.10 M702.03,777.50 L695.43,784.10 M698.73,777.50 L698.73,784.10" stroke="#000" stroke-width="1" fill="none"/>
<path d="M488.64,556.96 L488.64,563.77" stroke="#555" stroke-width="1.3" fill="none"/>
<path d="M484.74,556.96 L492.54,556.96 " stroke="#222" stroke-width="1" fill="none"/>
<path d="M518.65,556.68 L518.65,561.79" stroke="#555" stroke-width="1.3" fill="none"/>
<path d="M514.75,556.68 L522.55,556.68 " stroke="#222" stroke-width="1" fill="none"/>
<path d="M548.66,557.53 L548.66,559.80" stroke="#555" stroke-width="1.3" fill="none"/>
<path d="M544.76,557.53 L552.56,557.53 " stroke="#222" stroke-width="1" fill="none"/>
<path d="M578.67,556.40 L578.67,566.61" stroke="#555" stroke-width="1.3" fill="none"/>
<path d="M574.77,556.40 L582.57,556.40 " stroke="#222" stroke-width="1" fill="none"/>
<path d="M608.69,592.14 L608.69,598.10" stroke="#555" stroke-width="1.3" fill="none"/>
<path d="M604.79,592.14 L612.59,592.14 " stroke="#222" stroke-width="1" fill="none"/>
<path d="M638.70,632.71 L638.70,637.25" stroke="#555" stroke-width="1.3" fill="none"/>
<path d="M634.80,632.71 L642.60,632.71 " stroke="#222" stroke-width="1" fill="none"/>
<path d="M668.71,691.72 L668.71,700.23" stroke="#555" stroke-width="1.3" fill="none"/>
<path d="M664.81,700.23 L672.61,700.23" stroke="#222" stroke-width="1" fill="none"/>
<path d="M698.73,714.13 L698.73,732.29" stroke="#555" stroke-width="1.3" fill="none"/>
<path d="M694.83,714.13 L702.63,714.13 " stroke="#222" stroke-width="1" fill="none"/>
<path d="M439.30,559.80 C447.52,560.46 475.41,563.44 488.64,563.77 C501.86,564.10 508.65,562.45 518.65,561.79 C528.65,561.12 538.66,559.00 548.66,559.80 C558.67,560.60 568.67,560.23 578.67,566.61 C588.68,572.99 598.68,586.33 608.69,598.10 C618.69,609.87 628.70,621.65 638.70,637.25 C648.70,652.85 658.71,675.88 668.71,691.72 C678.72,707.56 693.72,725.53 698.73,732.29" stroke="#000" stroke-width="1.15" fill="none"/>
<path d="M439.30,556.10 L443.00,562.94 L435.60,562.94 Z" fill="#000"/>
<path d="M488.64,560.07 L492.34,566.92 L484.94,566.92 Z" fill="#000"/>
<path d="M518.65,558.09 L522.35,564.93 L514.95,564.93 Z" fill="#000"/>
<path d="M548.66,556.10 L552.36,562.94 L544.96,562.94 Z" fill="#000"/>
<path d="M578.67,562.91 L582.37,569.75 L574.97,569.75 Z" fill="#000"/>
<path d="M608.69,594.40 L612.39,601.24 L604.99,601.24 Z" fill="#000"/>
<path d="M638.70,633.55 L642.40,640.40 L635.00,640.40 Z" fill="#000"/>
<path d="M668.71,688.02 L672.41,694.87 L665.01,694.87 Z" fill="#000"/>
<path d="M698.73,728.59 L702.43,735.43 L695.03,735.43 Z" fill="#000"/>
<path d="M488.64,600.65 L488.64,619.09" stroke="#555" stroke-width="1.3" fill="none"/>
<path d="M484.74,600.65 L492.54,600.65 M484.74,619.09 L492.54,619.09" stroke="#222" stroke-width="1" fill="none"/>
<path d="M518.65,629.31 L518.65,657.11" stroke="#555" stroke-width="1.3" fill="none"/>
<path d="M514.75,629.31 L522.55,629.31 M514.75,657.11 L522.55,657.11" stroke="#222" stroke-width="1" fill="none"/>
<path d="M548.66,678.95 L548.66,698.25" stroke="#555" stroke-width="1.3" fill="none"/>
<path d="M544.76,678.95 L552.56,678.95 M544.76,698.25 L552.56,698.25" stroke="#222" stroke-width="1" fill="none"/>
<path d="M578.67,720.94 L578.67,735.69" stroke="#555" stroke-width="1.3" fill="none"/>
<path d="M574.77,735.69 L582.57,735.69" stroke="#222" stroke-width="1" fill="none"/>
<path d="M608.69,744.21 L608.69,753.28" stroke="#555" stroke-width="1.3" fill="none"/>
<path d="M604.79,753.28 L612.59,753.28" stroke="#222" stroke-width="1" fill="none"/>
<path d="M638.70,745.62 L638.70,753.57" stroke="#555" stroke-width="1.3" fill="none"/>
<path d="M634.80,745.62 L642.60,745.62 " stroke="#222" stroke-width="1" fill="none"/>
<path d="M668.71,738.25 L668.71,778.53" stroke="#555" stroke-width="1.3" fill="none"/>
<path d="M664.81,738.25 L672.61,738.25 M664.81,778.53 L672.61,778.53" stroke="#222" stroke-width="1" fill="none"/>
<path d="M698.73,751.58 L698.73,764.63" stroke="#555" stroke-width="1.3" fill="none"/>
<path d="M694.83,751.58 L702.63,751.58 M694.83,764.63 L702.63,764.63" stroke="#222" stroke-width="1" fill="none"/>
<path d="M439.30,559.80 C447.52,568.17 475.41,596.11 488.64,610.01 C501.86,623.92 508.65,630.11 518.65,643.21 C528.65,656.31 538.66,675.64 548.66,688.60 C558.67,701.56 568.67,711.67 578.67,720.94 C588.68,730.21 598.68,738.77 608.69,744.21 C618.69,749.64 628.70,751.53 638.70,753.57 C648.70,755.60 658.71,755.93 668.71,756.40 C678.72,756.88 693.72,756.40 698.73,756.40" stroke="#000" stroke-width="1.15" fill="none"/>
<path d="M439.30,556.00 L443.10,559.80 L439.30,563.60 L435.50,559.80 Z" fill="#000"/>
<path d="M488.64,606.21 L492.44,610.01 L488.64,613.81 L484.84,610.01 Z" fill="#000"/>
<path d="M518.65,639.41 L522.45,643.21 L518.65,647.01 L514.85,643.21 Z" fill="#000"/>
<path d="M548.66,684.80 L552.46,688.60 L548.66,692.40 L544.86,688.60 Z" fill="#000"/>
<path d="M578.67,717.14 L582.47,720.94 L578.67,724.74 L574.87,720.94 Z" fill="#000"/>
<path d="M608.69,740.41 L612.49,744.21 L608.69,748.00 L604.89,744.21 Z" fill="#000"/>
<path d="M638.70,749.77 L642.50,753.57 L638.70,757.37 L634.90,753.57 Z" fill="#000"/>
<path d="M668.71,752.60 L672.51,756.40 L668.71,760.20 L664.91,756.40 Z" fill="#000"/>
<path d="M698.73,752.60 L702.53,756.40 L698.73,760.20 L694.93,756.40 Z" fill="#000"/>
<path d="M488.64,566.04 L488.64,577.11" stroke="#555" stroke-width="1.3" fill="none"/>
<path d="M484.74,577.11 L492.54,577.11" stroke="#222" stroke-width="1" fill="none"/>
<path d="M548.66,567.18 L548.66,577.39" stroke="#555" stroke-width="1.3" fill="none"/>
<path d="M544.76,577.39 L552.56,577.39" stroke="#222" stroke-width="1" fill="none"/>
<path d="M578.67,575.40 L578.67,597.25" stroke="#555" stroke-width="1.3" fill="none"/>
<path d="M574.77,575.40 L582.57,575.40 M574.77,597.25 L582.57,597.25" stroke="#222" stroke-width="1" fill="none"/>
<path d="M608.69,577.39 L608.69,613.99" stroke="#555" stroke-width="1.3" fill="none"/>
<path d="M604.79,577.39 L612.59,577.39 M604.79,613.99 L612.59,613.99" stroke="#222" stroke-width="1" fill="none"/>
<path d="M668.71,667.89 L668.71,701.08" stroke="#555" stroke-width="1.3" fill="none"/>
<path d="M664.81,667.89 L672.61,667.89 M664.81,701.08 L672.61,701.08" stroke="#222" stroke-width="1" fill="none"/>
<path d="M698.73,714.13 L698.73,730.02" stroke="#555" stroke-width="1.3" fill="none"/>
<path d="M694.83,714.13 L702.63,714.13 " stroke="#222" stroke-width="1" fill="none"/>
<path d="M439.30,559.80 C447.52,560.84 475.41,563.39 488.64,566.04 C501.86,568.69 508.65,575.50 518.65,575.69 C528.65,575.88 538.66,565.71 548.66,567.18 C558.67,568.64 568.67,579.33 578.67,584.48 C588.68,589.64 598.68,586.61 608.69,598.10 C618.69,609.59 628.70,638.91 638.70,653.42 C648.70,667.94 658.71,672.43 668.71,685.20 C678.72,697.96 693.72,722.55 698.73,730.02" stroke="#000" stroke-width="1.15" fill="none"/>
<path d="M488.64,563.04 L491.64,566.04 L488.64,569.04 L485.64,566.04 Z" fill="none" stroke="#000" stroke-width="1"/>
<path d="M518.65,572.69 L521.65,575.69 L518.65,578.69 L515.65,575.69 Z" fill="none" stroke="#000" stroke-width="1"/>
<path d="M548.66,564.18 L551.66,567.18 L548.66,570.18 L545.66,567.18 Z" fill="none" stroke="#000" stroke-width="1"/>
<path d="M578.67,581.48 L581.67,584.48 L578.67,587.48 L575.67,584.48 Z" fill="none" stroke="#000" stroke-width="1"/>
<path d="M608.69,595.10 L611.69,598.10 L608.69,601.10 L605.69,598.10 Z" fill="none" stroke="#000" stroke-width="1"/>
<path d="M638.70,650.42 L641.70,653.42 L638.70,656.42 L635.70,653.42 Z" fill="none" stroke="#000" stroke-width="1"/>
<path d="M668.71,682.20 L671.71,685.20 L668.71,688.20 L665.71,685.20 Z" fill="none" stroke="#000" stroke-width="1"/>
<path d="M698.73,727.02 L701.73,730.02 L698.73,733.02 L695.73,730.02 Z" fill="none" stroke="#000" stroke-width="1"/>
<line x1="450" y1="744.4" x2="477" y2="744.4" stroke="#000" stroke-width="1"/>
<rect x="460.25" y="741.25" width="6.30" height="6.30" fill="#000"/>
<text transform="translate(480.32,748.40)" font-family="'Liberation Sans', sans-serif" font-size="10.45" fill="#000">pCEA205-TP</text>
<line x1="450" y1="765.5" x2="477" y2="765.5" stroke="#000" stroke-width="1"/>
<rect x="458.61" y="760.76" width="9.57" height="9.57" fill="#fff"/><path d="M460.10,762.25 L466.70,768.85 M466.70,762.25 L460.10,768.85 M463.40,762.25 L463.40,768.85" stroke="#000" stroke-width="1" fill="none"/>
<text transform="translate(480.32,769.55)" font-family="'Liberation Sans', sans-serif" font-size="10.45" fill="#000">pkB4-CEA205-TP</text>
<line x1="450" y1="786.7" x2="477" y2="786.7" stroke="#000" stroke-width="1"/>
<path d="M463.40,783.00 L467.10,789.84 L459.70,789.84 Z" fill="#000"/>
<text transform="translate(480.32,790.70)" font-family="'Liberation Sans', sans-serif" font-size="10.45" fill="#000">pkB4-TP</text>
<line x1="450" y1="807.9" x2="477" y2="807.9" stroke="#000" stroke-width="1"/>
<path d="M463.40,804.05 L467.20,807.85 L463.40,811.65 L459.60,807.85 Z" fill="#000"/>
<text transform="translate(480.32,811.85)" font-family="'Liberation Sans', sans-serif" font-size="10.45" fill="#000">pcDNA3-TP</text>
<line x1="450" y1="829.0" x2="477" y2="829.0" stroke="#000" stroke-width="1"/>
<path d="M463.40,826.00 L466.40,829.00 L463.40,832.00 L460.40,829.00 Z" fill="none" stroke="#000" stroke-width="1"/>
<text transform="translate(480.32,833.00)" font-family="'Liberation Sans', sans-serif" font-size="10.45" fill="#000">pcDNA3</text>
<text transform="translate(13.60,751.89) rotate(-90) scale(0.9969,1.0000)" font-family="'Liberation Sans', sans-serif" font-size="13.9" fill="#000">Cell viability (%)</text>
<text transform="translate(165.13,882.10) scale(1.0063,1)" font-family="'Liberation Sans', sans-serif" font-size="14.2" fill="#000">5′-DFUR</text>
<text x="224.3" y="882.1" font-family="'Liberation Sans', sans-serif" font-size="14">(<tspan font-style="italic" font-size="12">μ</tspan><tspan font-size="10">M</tspan>)</text>
<text transform="translate(403.70,750.49) rotate(-90) scale(0.9969,1.0000)" font-family="'Liberation Sans', sans-serif" font-size="13.9" fill="#000">Cell viability (%)</text>
<text transform="translate(546.63,882.10) scale(1.0063,1)" font-family="'Liberation Sans', sans-serif" font-size="14.2" fill="#000">5′-DFUR</text>
<text x="605.8" y="882.1" font-family="'Liberation Sans', sans-serif" font-size="14">(<tspan font-style="italic" font-size="12">μ</tspan><tspan font-size="10">M</tspan>)</text>
</svg>
</body></html>
